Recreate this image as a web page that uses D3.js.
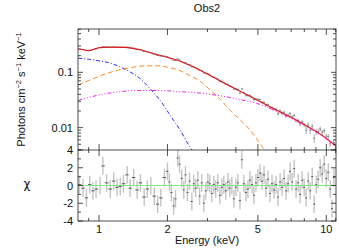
<!DOCTYPE html>
<html>
<head>
<meta charset="utf-8">
<script src="https://cdn.jsdelivr.net/npm/d3@7"></script>
<style>
  body { margin:0; background:#fff; }
  text { font-family: "Liberation Sans", Arial, sans-serif; fill:#111; }
</style>
</head>
<body>
<div id="chart"></div>
<script>
const energy = [0.82,0.85,0.88,0.91,0.94,0.97,1.01,1.04,1.08,1.12,1.16,1.20,1.24,1.28,1.33,1.37,1.42,1.47,1.52,1.58,1.63,1.69,1.75,1.81,1.87,1.94,
  2.00,2.04,2.08,2.13,2.17,2.22,2.26,2.31,2.36,2.40,2.45,2.50,2.56,2.61,2.66,2.72,2.77,2.83,2.89,2.95,
  3.01,3.07,3.13,3.20,3.26,3.33,3.40,3.47,3.54,3.61,3.69,3.76,3.84,3.92,
  4.00,4.08,4.17,4.25,4.34,4.43,4.52,4.61,4.71,4.80,4.90,5.00,5.11,5.21,5.32,5.43,5.54,5.65,5.77,5.89,
  6.01,6.13,6.26,6.39,6.52,6.65,6.79,6.93,7.07,7.22,7.36,7.52,7.67,7.83,7.99,
  8.15,8.32,8.49,8.67,8.84,9.03,9.21,9.40,9.59,9.79,9.99,10.2,10.4,10.6,10.8];

const flux = [0.263,0.257,0.246,0.249,0.257,0.266,0.279,0.290,0.285,0.283,0.287,0.283,0.284,0.284,0.285,0.274,0.273,0.260,0.255,0.239,0.235,0.226,0.213,0.202,0.197,0.196,
  0.192,0.183,0.175,0.165,0.164,0.175,0.168,0.157,0.149,0.150,0.138,0.136,0.125,0.126,0.120,0.116,0.108,0.107,0.097,0.096,
  0.094,0.0895,0.0837,0.0822,0.0781,0.0757,0.0696,0.0676,0.0652,0.0609,0.0607,0.0565,0.055,0.0497,
  0.0495,0.0487,0.0421,0.0504,0.0424,0.0384,0.0382,0.0381,0.0352,0.0321,0.0325,0.0324,0.0321,0.0287,0.0286,0.0256,0.0259,0.0229,0.0232,0.0215,
  0.0212,0.0180,0.0199,0.0182,0.0189,0.0163,0.0167,0.0178,0.0156,0.0166,0.0134,0.0135,0.0117,0.0127,0.0113,
  0.0090,0.0111,0.0090,0.0105,0.0064,0.0084,0.0086,0.0095,0.0083,0.0088,0.0070,0.0069,0.0051,0.0034,0.0054];

const fluxErr = [0.0039,0.0039,0.0038,0.0037,0.0039,0.0040,0.0042,0.0042,0.0043,0.0043,0.0043,0.0043,0.0043,0.0042,0.0042,0.0041,0.0040,0.0039,0.0038,0.0037,0.0035,0.0034,0.0033,0.0031,0.0030,0.0029,
  0.0037,0.0036,0.0036,0.0035,0.0034,0.0033,0.0032,0.0031,0.0030,0.0029,0.0028,0.0027,0.0026,0.0025,0.0024,0.0023,0.0022,0.0021,0.0020,0.0019,
  0.0028,0.0027,0.0026,0.0025,0.0024,0.0023,0.0022,0.0020,0.0020,0.0019,0.0018,0.0017,0.0017,0.0016,
  0.0025,0.0024,0.0023,0.0022,0.0021,0.0020,0.0020,0.0019,0.0018,0.0017,0.0016,0.0016,0.0015,0.0014,0.0014,0.0013,0.0013,0.0012,0.0012,0.0011,
  0.0017,0.0016,0.0015,0.0015,0.0014,0.0014,0.0013,0.0013,0.0012,0.0012,0.0011,0.0011,0.0010,0.0010,0.0009,
  0.0014,0.0014,0.0013,0.0012,0.0011,0.0011,0.0010,0.00098,0.00092,0.00087,0.00082,0.00075,0.00070,0.00066,0.00062];

const chi = [0.1,-0.3,-1.4,0.1,-0.6,-0.4,0.0,2.2,0.3,-0.4,0.5,-0.2,-0.1,0.2,1.2,-0.3,0.9,-0.5,0.3,-1.3,-0.4,0.0,-1.2,-2.1,-1.4,0.9,
  1.6,0.4,-0.8,-2.3,-1.5,3.1,2.4,0.8,-0.5,1.2,-0.8,0.5,-1.8,0.2,-0.3,0.6,-1.2,0.3,-2.0,-0.6,
  0.4,0.2,-0.9,0.1,-0.4,0.3,-1.1,-0.2,0.1,-0.6,0.4,-0.3,0.0,-1.5,
  -0.2,0.3,-1.7,2.9,0.2,-0.8,-0.4,0.6,0.1,-1.1,0.3,0.9,1.4,0.5,1.2,-0.3,0.7,-0.9,0.2,-0.5,
  0.1,-1.3,0.4,-0.2,0.8,-0.6,0.2,1.6,0.4,1.9,-0.4,0.3,-1.0,0.6,-0.2,
  -1.4,0.5,-0.6,1.0,-2.1,0.1,0.7,2.0,1.3,2.4,0.8,1.5,-0.4,-2.6,0.9];

// model curves
const totalE = [0.81,0.85,0.90,0.95,1.00,1.10,1.30,1.50,1.70,2.00,2.20,2.50,2.80,3.50,4.20,5.00,6.00,7.00,8.20,9.70,11.0];
const totalF = [0.264,0.258,0.247,0.262,0.278,0.285,0.283,0.258,0.224,0.186,0.167,0.135,0.108,0.066,0.045,0.031,0.021,0.0154,0.0107,0.0070,0.0047];
const blueE = [0.81,0.90,1.00,1.10,1.234,1.366,1.511,1.673,1.848,2.05,2.27,2.51,2.62];
const blueF = [0.180,0.172,0.161,0.150,0.126,0.102,0.078,0.051,0.032,0.017,0.0091,0.0045,0.0035];
const orangeE = [0.81,0.90,1.00,1.20,1.40,1.60,1.80,2.00,2.30,2.50,2.80,3.10,3.40,3.80,4.20,4.50,5.10,5.35];
const orangeF = [0.059,0.071,0.085,0.108,0.123,0.131,0.131,0.124,0.105,0.088,0.068,0.047,0.033,0.020,0.0135,0.0102,0.0052,0.0039];
const magE = [0.81,0.90,1.00,1.20,1.50,1.80,2.20,2.80,3.50,4.20,5.00,5.84,7.00,8.20,9.70,11.0];
const magF = [0.031,0.035,0.039,0.044,0.047,0.047,0.045,0.042,0.037,0.032,0.027,0.021,0.0147,0.0104,0.0069,0.0045];

const xMajor = [1,2,5,10];
const xMinor = [0.9,3,4,6,7,8,9,11];
const yMajor = [0.01,0.1];
const yMinor = [0.004,0.005,0.006,0.007,0.008,0.009,0.02,0.03,0.04,0.05,0.06,0.07,0.08,0.09,0.2,0.3,0.4,0.5,0.6];
const rMajor = [-4,-2,0,2,4];
const rMinor = [-3,-1,1,3];

const W = 339, H = 249;
const L = 78, R = 336, T = 29, M = 150, B = 221;

const svg = d3.select("#chart").append("svg").attr("width", W).attr("height", H);

const x = d3.scaleLog().domain([0.808, 11.03]).range([L, R]);
const y = d3.scaleLog().domain([0.00394, 0.607]).range([M, T]);
const yr = d3.scaleLinear().domain([-4, 4]).range([B, M]);

svg.append("clipPath").attr("id","topclip").append("rect")
  .attr("x", L).attr("y", T).attr("width", R-L).attr("height", M-T);
svg.append("clipPath").attr("id","botclip").append("rect")
  .attr("x", L).attr("y", M).attr("width", R-L).attr("height", B-M);

// bin edges halfway (in log) between neighbours
const lo = energy.map((e,i)=> i>0 ? Math.sqrt(e*energy[i-1]) : e*e/Math.sqrt(e*energy[1]));
const hi = energy.map((e,i)=> i<energy.length-1 ? Math.sqrt(e*energy[i+1]) : e*e/Math.sqrt(e*energy[i-1]));

// top panel data
const gTop = svg.append("g").attr("clip-path","url(#topclip)");
energy.forEach((e,i)=>{
  const f = flux[i], er = fluxErr[i];
  gTop.append("line").attr("x1", x(e)).attr("x2", x(e))
    .attr("y1", y(f+er)).attr("y2", y(Math.max(f-er, 1e-4)))
    .attr("stroke","#a8a8a8").attr("stroke-width",1);
  gTop.append("line").attr("x1", x(lo[i])).attr("x2", x(hi[i]))
    .attr("y1", y(f)).attr("y2", y(f))
    .attr("stroke","#888").attr("stroke-width",1);
});

const curve = (E, F) => d3.line().x((d,i)=>x(E[i])).y((d,i)=>y(F[i])).curve(d3.curveMonotoneX)(F);

gTop.append("path").attr("d", curve(totalE,totalF)).attr("fill","none")
  .attr("stroke","#e01818").attr("stroke-width",1.1);
gTop.append("path").attr("d", curve(blueE,blueF)).attr("fill","none")
  .attr("stroke","#2b2bf0").attr("stroke-width",1).attr("stroke-dasharray","4,2,1,2");
gTop.append("path").attr("d", curve(orangeE,orangeF)).attr("fill","none")
  .attr("stroke","#ff8a20").attr("stroke-width",1).attr("stroke-dasharray","5,3");
gTop.append("path").attr("d", curve(magE,magF)).attr("fill","none")
  .attr("stroke","#f020f0").attr("stroke-width",1).attr("stroke-dasharray","4,2,1,2,1,2,1,2");

// residuals
const gBot = svg.append("g").attr("clip-path","url(#botclip)");
energy.forEach((e,i)=>{
  gBot.append("line").attr("x1", x(e)).attr("x2", x(e))
    .attr("y1", yr(chi[i]+1)).attr("y2", yr(chi[i]-1))
    .attr("stroke","#c4c4c4").attr("stroke-width",1.4);
  gBot.append("line").attr("x1", x(lo[i])).attr("x2", x(hi[i]))
    .attr("y1", yr(chi[i])).attr("y2", yr(chi[i]))
    .attr("stroke","#555").attr("stroke-width",1);
});
gBot.append("line").attr("x1", L).attr("x2", R).attr("y1", yr(0)).attr("y2", yr(0))
  .attr("stroke","#7fe87f").attr("stroke-width",1);

// frame + ticks
const ax = svg.append("g").attr("stroke","#222").attr("stroke-width",0.8).attr("fill","none");
ax.append("rect").attr("x", L).attr("y", T).attr("width", R-L).attr("height", B-T);
ax.append("line").attr("x1", L).attr("x2", R).attr("y1", M).attr("y2", M);

function xt(vals, len){
  vals.forEach(v=>{
    [T, M].forEach(y0=> ax.append("line").attr("x1",x(v)).attr("x2",x(v)).attr("y1",y0).attr("y2",y0+len));
    [M, B].forEach(y0=> ax.append("line").attr("x1",x(v)).attr("x2",x(v)).attr("y1",y0).attr("y2",y0-len));
  });
}
xt(xMajor, 6); xt(xMinor, 3);

function yt(scale, vals, len){
  vals.forEach(v=>{
    ax.append("line").attr("x1",L).attr("x2",L+len).attr("y1",scale(v)).attr("y2",scale(v));
    ax.append("line").attr("x1",R).attr("x2",R-len).attr("y1",scale(v)).attr("y2",scale(v));
  });
}
yt(y, yMajor, 5); yt(y, yMinor, 3);
yt(yr, rMajor, 5); yt(yr, rMinor, 3);

// labels
const fs = 11;
svg.selectAll(".xl").data(xMajor).enter().append("text")
  .attr("x", d=>x(d)).attr("y", 233).attr("text-anchor","middle").attr("font-size",fs)
  .text(d=>d);
svg.selectAll(".yl").data(yMajor).enter().append("text")
  .attr("x", 73).attr("y", d=>y(d)+4).attr("text-anchor","end").attr("font-size",fs)
  .text(d=>d);
svg.selectAll(".rl").data(rMajor).enter().append("text")
  .attr("x", 73).attr("y", d=>yr(d)+4).attr("text-anchor","end").attr("font-size",fs)
  .text(d=>d);

svg.append("text").attr("x", (L+R)/2).attr("y", 12).attr("text-anchor","middle")
  .attr("font-size",fs).text("Obs2");
svg.append("text").attr("x", (L+R)/2).attr("y", 244).attr("text-anchor","middle")
  .attr("font-size",fs).text("Energy (keV)");
svg.append("text").attr("x", 27).attr("y", yr(0)+2).attr("text-anchor","middle")
  .attr("font-size",12).style("font-family","'DejaVu Sans', sans-serif").text("χ");

const yl = svg.append("text").attr("transform", `translate(25,${(T+M)/2}) rotate(-90)`)
  .attr("text-anchor","middle").attr("font-size",fs);
yl.append("tspan").text("Photons cm");
yl.append("tspan").attr("font-size",7.5).attr("dy",-4).text("−2");
yl.append("tspan").attr("dy",4).text(" s");
yl.append("tspan").attr("font-size",7.5).attr("dy",-4).text("−1");
yl.append("tspan").attr("dy",4).text(" keV");
yl.append("tspan").attr("font-size",7.5).attr("dy",-4).text("−1");
</script>
</body>
</html>
